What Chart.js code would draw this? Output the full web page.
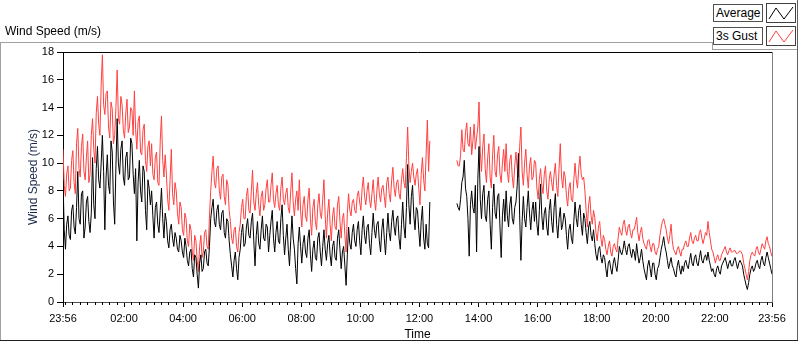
<!DOCTYPE html>
<html>
<head>
<meta charset="utf-8">
<script src="https://cdn.jsdelivr.net/npm/chart.js@4.4.1/dist/chart.umd.min.js"></script>
<style>
  html, body { margin: 0; padding: 0; background: #fff; }
  body { width: 800px; height: 342px; position: relative; overflow: hidden; font-family: "Liberation Sans", Arial, sans-serif; }
  #chart { position: absolute; left: 0; top: 0; }
  .line { position: absolute; background: #a0a0a0; }
  .title { position: absolute; left: 5px; top: 24px; font-size: 12px; color: #000; }
  .lbl { position: absolute; left: 713px; width: 46px; height: 16px; border: 1px solid #505050; font-size: 12px; line-height: 16px; padding-left: 2px; background: #fff; }
  .ico { position: absolute; left: 766px; width: 28px; height: 18px; border: 1px solid #404040; background: #fff; }
</style>
</head>
<body>
<canvas id="chart" width="800" height="342"></canvas>
<div class="title">Wind Speed (m/s)</div>
<!-- frame -->
<div class="line" style="left:0;top:42px;width:712px;height:1px"></div>
<div class="line" style="left:712px;top:42px;width:1px;height:7px"></div>
<div class="line" style="left:712px;top:49px;width:86px;height:1px"></div>
<div class="line" style="left:0;top:42px;width:1px;height:299px"></div>
<div class="line" style="left:797px;top:0;width:1px;height:341px;background:#606060"></div>
<div class="line" style="left:0;top:340px;width:798px;height:1px;background:#202020"></div>
<!-- legend -->
<div class="lbl" style="top:4px">Average</div>
<div class="ico" style="top:3px"><svg width="28" height="18"><polyline points="2,15 9,4 17,15 26,3" fill="none" stroke="#000" stroke-width="1"/></svg></div>
<div class="lbl" style="top:27px">3s Gust</div>
<div class="ico" style="top:26px"><svg width="28" height="18"><polyline points="2,15 9,4 17,15 26,3" fill="none" stroke="#ff4040" stroke-width="1"/></svg></div>
<script>
// minutes relative to midnight, first sample at 23:56 of the day before
const START_MIN = -4;
const STEP_MIN = 2.5;

const xTickMinutes = [-4, 120, 240, 360, 480, 600, 720, 840, 960, 1080, 1200, 1320, 1436];
const xTickLabels = ['23:56', '02:00', '04:00', '06:00', '08:00', '10:00', '12:00', '14:00', '16:00', '18:00', '20:00', '22:00', '23:56'];
const yTicks = [0, 2, 4, 6, 8, 10, 12, 14, 16, 18];

// one row = 30 min
const average = [
  8.8, 5.2, 3.8, 5.6, 6.2, 4.8, 4.5, 6.6, 7.0, 5.4, 4.9, 6.8,
  9.4, 6.0, 5.6, 7.8, 8.0, 4.6, 5.4, 7.2, 7.6, 5.8, 5.0, 6.4,
  10.4, 7.0, 6.0, 9.6, 11.2, 8.8, 8.2, 10.0, 12.0, 9.4, 5.2, 9.0,
  10.6, 8.4, 7.8, 11.6, 10.8, 7.2, 5.6, 9.8, 13.2, 10.0, 9.2, 11.0,
  11.6, 9.0, 8.4, 10.4, 10.8, 8.8, 9.0, 11.8, 11.4, 9.2, 7.8, 9.6,
  4.4, 8.6, 10.2, 8.0, 7.2, 9.8, 9.4, 6.6, 5.2, 8.8, 8.2, 7.0,
  8.0, 6.2, 4.6, 6.8, 7.2, 5.6, 5.0, 6.6, 8.2, 6.0, 4.6, 6.4,
  5.8, 4.4, 3.9, 5.2, 5.6, 4.6, 4.0, 5.0, 4.6, 3.8, 3.6, 4.8,
  4.4, 3.6, 3.2, 4.6, 4.0, 3.0, 2.6, 3.6, 3.8, 2.4, 1.8, 3.4,
  3.2, 2.0, 1.0, 2.8, 3.4, 2.2, 2.4, 3.6, 3.8, 2.8, 2.6, 4.0,
  6.0, 6.8, 7.4, 5.8, 5.4, 6.6, 7.0, 5.6, 5.2, 6.4, 6.6, 5.0,
  4.6, 6.0, 5.8, 4.4, 3.4, 2.6, 1.8, 3.0, 3.6, 2.4, 1.6, 3.2,
  3.8, 5.0, 5.6, 4.0, 4.2, 5.4, 6.0, 4.8, 4.6, 5.8, 6.4, 4.4,
  2.6, 4.8, 5.8, 4.2, 3.8, 5.2, 6.2, 4.6, 4.4, 5.6, 5.4, 3.6,
  4.8, 5.8, 6.6, 4.6, 3.6, 5.0, 5.8, 4.4, 4.2, 6.0, 7.0, 4.8,
  3.4, 4.6, 5.6, 3.8, 2.6, 4.4, 6.2, 4.6, 3.8, 2.4, 1.3, 4.2,
  5.4, 4.0, 2.8, 4.2, 4.8, 3.6, 3.2, 4.6, 5.2, 3.4, 2.2, 3.8,
  4.4, 3.2, 3.0, 4.6, 5.0, 3.6, 2.6, 4.0, 5.2, 3.8, 3.0, 4.2,
  4.8, 3.4, 2.6, 4.0, 4.4, 3.2, 3.0, 4.6, 5.2, 3.8, 2.4, 3.6,
  4.0, 2.6, 1.2, 3.4, 5.4, 4.2, 3.8, 5.0, 5.6, 4.4, 4.0, 5.2,
  5.8, 4.4, 3.4, 5.2, 6.2, 4.8, 4.2, 5.4, 5.6, 4.2, 3.4, 5.0,
  6.4, 5.2, 4.6, 5.6, 5.8, 4.4, 3.6, 5.2, 6.0, 4.6, 3.4, 5.0,
  6.4, 5.0, 4.4, 5.8, 6.6, 5.4, 4.8, 6.0, 6.2, 4.6, 3.8, 5.6,
  7.2, 5.4, 4.6, 6.8, 9.9, 7.0, 5.6, 7.6, 8.4, 6.2, 5.2, 6.8,
  6.6, 5.2, 4.0, 5.8, 6.9, 4.6, 3.8, 5.6, 4.2, 3.9, 7.2, null,
  null, null, null, null, null, null, null, null, null, null, null, null,
  null, null, null, null, null, null, null, null, 7.1, 6.8, 6.6, 7.4,
  8.6, 9.0, 10.2, 8.2, 7.6, 6.0, 3.3, 7.0, 8.0, 6.8, 6.4, 8.4,
  3.6, 8.8, 11.2, 7.4, 6.0, 7.8, 8.4, 6.2, 5.8, 7.4, 8.0, 5.6,
  3.8, 6.8, 8.5, 6.4, 6.0, 7.6, 7.8, 5.4, 3.2, 6.2, 7.4, 5.8,
  8.0, 6.2, 5.4, 7.0, 7.6, 6.0, 5.6, 6.8, 7.2, 8.4, 10.7, 6.2,
  3.0, 5.8, 7.6, 6.0, 5.4, 6.8, 8.0, 6.4, 5.2, 6.6, 7.2, 5.8,
  7.2, 5.6, 4.8, 6.6, 8.5, 6.2, 5.2, 6.4, 6.8, 5.4, 4.8, 6.6,
  7.4, 5.8, 5.0, 6.8, 7.8, 5.6, 4.6, 6.0, 6.8, 5.2, 5.6, 6.4,
  6.0, 4.8, 3.8, 5.2, 5.6, 4.6, 4.2, 5.8, 7.2, 6.0, 5.4, 6.6,
  7.0, 5.6, 4.8, 6.4, 6.0, 5.0, 4.2, 5.4, 5.8, 4.8, 4.4, 5.2,
  4.2, 3.4, 3.0, 3.8, 4.0, 3.2, 2.8, 3.4, 3.2, 2.4, 1.8, 2.8,
  3.0, 2.4, 2.0, 2.8, 3.2, 2.6, 2.2, 3.0, 4.0, 3.6, 3.4, 3.8,
  4.4, 3.8, 3.4, 4.0, 4.2, 3.6, 3.2, 3.8, 3.6, 3.0, 4.2, 3.4,
  2.8, 3.2, 3.8, 3.0, 2.4, 2.0, 1.6, 2.6, 3.0, 2.4, 1.8, 2.8,
  2.8, 2.0, 1.6, 2.4, 2.6, 3.2, 3.8, 4.2, 4.7, 4.0, 3.6, 3.0,
  2.4, 2.8, 3.2, 2.6, 2.4, 2.0, 1.8, 2.6, 3.0, 2.4, 2.0, 2.6,
  2.2, 2.8, 3.0, 2.6, 2.4, 3.0, 3.5, 2.8, 2.6, 3.2, 3.4, 2.8,
  2.6, 3.2, 3.7, 3.0, 2.8, 3.2, 3.4, 3.0, 3.6, 3.0, 2.6, 2.2,
  2.4, 2.0, 1.8, 2.4, 2.6, 2.2, 2.0, 2.6, 2.8, 3.0, 3.2, 2.8,
  2.4, 2.8, 3.0, 2.6, 2.6, 3.0, 3.2, 2.8, 2.4, 2.8, 3.0, 2.8,
  2.6, 2.0, 1.6, 1.2, 0.9, 1.4, 2.0, 2.4, 2.6, 2.2, 2.4, 2.8,
  3.0, 2.6, 2.4, 3.0, 3.3, 2.8, 2.6, 3.2, 3.6, 3.2, 2.8, 2.4,
  2.0
];

const gust = [
  11.0, 8.4, 7.6, 9.2, 9.8, 8.0, 8.2, 10.2, 10.9, 8.6, 7.8, 11.4,
  12.5, 9.6, 9.0, 11.2, 12.1, 9.4, 8.8, 10.4, 11.6, 8.6, 9.2, 12.0,
  13.2, 11.0, 10.0, 13.6, 14.8, 12.8, 12.0, 15.6, 17.8, 14.2, 13.5, 15.0,
  15.2, 12.6, 11.8, 14.4, 13.9, 11.4, 12.0, 14.0, 16.7, 13.2, 12.8, 14.8,
  14.2, 12.4, 11.8, 13.6, 14.6, 12.2, 12.6, 14.0, 13.8, 12.0, 15.2, 12.4,
  11.0, 13.0, 13.4, 10.8, 10.6, 12.4, 12.8, 10.2, 9.4, 11.2, 11.6, 9.8,
  11.4, 9.2, 8.8, 10.4, 10.8, 8.6, 8.4, 11.6, 13.4, 10.2, 9.0, 10.6,
  9.2, 7.4, 6.6, 8.8, 11.0, 7.8, 7.0, 8.6, 8.0, 6.4, 5.6, 7.2,
  6.8, 5.2, 4.8, 6.4, 6.0, 4.4, 4.0, 5.6, 5.2, 3.6, 3.0, 4.8,
  4.4, 3.0, 2.2, 4.0, 4.8, 3.2, 3.6, 5.0, 5.2, 4.0, 3.8, 6.2,
  8.0, 9.4, 10.5, 8.6, 8.2, 9.6, 9.8, 8.0, 7.4, 9.0, 9.2, 7.6,
  7.0, 8.8, 8.4, 6.6, 5.8, 4.6, 4.2, 5.2, 5.4, 4.0, 3.6, 5.0,
  5.6, 6.8, 7.4, 6.0, 6.0, 7.6, 8.2, 6.6, 6.4, 8.0, 9.5, 7.2,
  6.6, 7.8, 8.6, 7.0, 6.2, 7.6, 8.0, 6.6, 7.0, 8.2, 8.8, 7.2,
  7.2, 8.4, 9.3, 7.4, 6.8, 7.8, 8.4, 7.0, 6.6, 8.2, 9.0, 7.4,
  7.0, 7.8, 8.2, 6.8, 6.4, 8.0, 9.3, 7.2, 6.2, 7.4, 8.0, 6.6,
  8.8, 6.6, 5.4, 7.0, 7.6, 6.2, 5.8, 7.4, 8.2, 6.0, 4.8, 6.8,
  7.4, 5.8, 5.2, 7.0, 7.8, 6.4, 6.0, 7.4, 8.8, 6.2, 4.6, 6.4,
  7.4, 5.6, 4.4, 6.2, 6.8, 5.4, 5.2, 7.0, 7.6, 5.8, 4.6, 6.0,
  6.4, 4.8, 3.6, 6.4, 7.8, 6.6, 6.2, 7.2, 7.4, 6.6, 6.4, 7.6,
  8.0, 7.2, 6.6, 8.2, 9.0, 7.6, 7.0, 8.0, 8.6, 7.4, 6.8, 7.8,
  8.8, 7.4, 6.6, 8.0, 9.0, 7.8, 7.2, 8.2, 8.4, 7.6, 6.8, 8.6,
  9.0, 7.8, 7.2, 8.8, 9.7, 8.2, 7.6, 8.6, 8.8, 7.8, 7.4, 8.8,
  9.6, 8.6, 8.2, 10.4, 12.6, 9.8, 8.6, 9.4, 10.0, 9.0, 8.4, 9.2,
  9.6, 8.2, 7.0, 9.2, 10.4, 8.8, 8.0, 10.6, 13.1, 9.4, 11.6, null,
  null, null, null, null, null, null, null, null, null, null, null, null,
  null, null, null, null, null, null, null, null, 10.2, 9.8, 9.8, 10.6,
  12.4, 11.0, 10.8, 12.2, 12.9, 11.4, 11.2, 12.6, 10.6, 11.6, 12.8, 11.0,
  11.8, 12.6, 14.4, 10.8, 9.4, 11.2, 12.1, 9.6, 8.6, 10.4, 11.4, 9.0,
  8.2, 10.6, 12.0, 9.4, 9.0, 10.6, 11.2, 9.2, 8.6, 10.0, 11.0, 9.4,
  11.4, 9.4, 8.6, 10.2, 10.6, 9.0, 8.2, 9.8, 10.8, 9.6, 9.0, 11.2,
  12.6, 9.4, 8.4, 10.0, 11.0, 9.2, 8.2, 9.8, 10.4, 8.8, 9.0, 10.2,
  10.0, 8.2, 7.4, 8.8, 9.6, 8.4, 7.8, 9.2, 9.8, 8.0, 7.4, 8.8,
  9.4, 8.6, 8.0, 9.2, 10.0, 8.4, 7.6, 9.6, 11.4, 9.0, 8.2, 9.4,
  9.0, 7.6, 6.9, 8.2, 8.6, 7.4, 7.2, 8.8, 10.0, 8.8, 8.2, 9.6,
  10.5, 9.2, 8.8, 9.0, 8.0, 6.6, 5.4, 7.0, 7.6, 6.2, 5.6, 6.6,
  6.1, 5.0, 4.4, 5.4, 5.8, 4.6, 4.0, 4.8, 4.5, 3.8, 3.4, 4.0,
  4.4, 3.6, 3.3, 4.0, 4.2, 3.8, 3.6, 4.6, 5.4, 5.0, 4.8, 5.6,
  5.9, 5.2, 4.8, 5.4, 5.6, 5.0, 4.6, 5.2, 5.2, 5.6, 6.1, 5.0,
  4.4, 5.0, 5.4, 4.6, 4.2, 4.0, 3.8, 4.4, 4.5, 4.0, 3.6, 4.2,
  4.2, 3.6, 3.4, 3.8, 4.0, 4.8, 5.4, 5.8, 6.0, 5.6, 5.2, 4.6,
  4.2, 4.8, 5.6, 4.4, 3.8, 3.6, 3.4, 3.8, 4.0, 3.6, 3.3, 3.8,
  3.8, 4.2, 4.4, 4.0, 4.0, 4.6, 5.0, 4.4, 4.2, 4.6, 4.8, 4.4,
  4.4, 5.0, 5.2, 4.6, 4.2, 4.6, 5.0, 4.8, 5.8, 5.0, 4.4, 3.8,
  3.6, 3.2, 2.8, 3.2, 3.4, 3.0, 3.0, 3.4, 3.6, 3.8, 4.0, 3.6,
  3.4, 3.7, 3.9, 3.6, 3.6, 3.7, 3.7, 3.5, 3.5, 3.6, 3.7, 3.6,
  3.4, 2.8, 2.4, 2.0, 1.6, 2.2, 3.0, 3.4, 3.6, 3.4, 3.3, 3.8,
  4.0, 3.6, 3.4, 3.8, 4.2, 4.0, 3.8, 4.4, 4.7, 4.2, 4.0, 3.6,
  3.3
];

function toPoints(values) {
  return values.map((v, i) => ({ x: START_MIN + i * STEP_MIN, y: v }));
}

// short ticks every 15 minutes between the labelled ones
const minorTicks = {
  id: 'minorTicks',
  afterDraw(chart) {
    const ctx = chart.ctx;
    const xs = chart.scales.x;
    ctx.save();
    ctx.strokeStyle = '#000';
    ctx.lineWidth = 1;
    ctx.beginPath();
    for (let m = 0; m < 1436; m += 15) {
      if (xTickMinutes.includes(m)) continue;
      const px = Math.round(xs.getPixelForValue(m)) + 0.5;
      ctx.moveTo(px, xs.top);
      ctx.lineTo(px, xs.top + 3);
    }
    ctx.stroke();
    ctx.restore();
  }
};

// black frame top, grey frame right
const plotFrame = {
  id: 'plotFrame',
  afterDatasetsDraw(chart) {
    const { ctx, chartArea: a } = chart;
    ctx.save();
    ctx.lineWidth = 1;
    ctx.strokeStyle = '#000';
    ctx.beginPath();
    ctx.moveTo(a.left, a.top + 0.5);
    ctx.lineTo(a.right, a.top + 0.5);
    ctx.stroke();
    ctx.strokeStyle = '#808080';
    ctx.beginPath();
    ctx.moveTo(a.right + 0.5, a.top);
    ctx.lineTo(a.right + 0.5, a.bottom);
    ctx.stroke();
    ctx.restore();
  }
};

document.addEventListener("DOMContentLoaded", function () {
  const ctx = document.querySelector("#chart").getContext("2d");

  const data = {
    datasets: [{
      label: 'Average',
      data: toPoints(average),
      borderColor: '#000',
      borderWidth: 1,
      pointRadius: 0,
      spanGaps: false
    }, {
      label: '3s Gust',
      data: toPoints(gust),
      borderColor: 'rgb(255, 64, 64)',
      borderWidth: 1,
      pointRadius: 0,
      spanGaps: false
    }]
  };

  const config = {
    type: 'line',
    data: data,
    options: {
      responsive: false,
      animation: false,
      devicePixelRatio: 1,
      layout: { padding: { left: 0, top: 52, right: 28, bottom: 0 } },
      plugins: {
        legend: { display: false },
        tooltip: { enabled: false }
      },
      elements: { line: { tension: 0 } },
      scales: {
        x: {
          type: 'linear',
          min: -4,
          max: 1436,
          afterBuildTicks: s => { s.ticks = xTickMinutes.map(v => ({ value: v })); },
          afterFit: s => { s.height = 40; },
          ticks: {
            autoSkip: false,
            maxRotation: 0,
            color: '#000',
            padding: 5,
            font: { family: 'Liberation Sans', size: 11 },
            callback: (v, i) => xTickLabels[i]
          },
          grid: { drawOnChartArea: false, tickLength: 5, tickColor: '#000' },
          border: { color: '#505050' },
          title: {
            display: true,
            text: 'Time',
            color: '#000',
            font: { family: 'Liberation Sans', size: 12 },
            padding: { top: 0, bottom: 0 }
          }
        },
        y: {
          min: 0,
          max: 18,
          afterBuildTicks: s => { s.ticks = yTicks.map(v => ({ value: v })); },
          afterFit: s => { s.width = 63; },
          ticks: {
            color: '#000',
            padding: 3,
            font: { family: 'Liberation Sans', size: 11 }
          },
          grid: { drawOnChartArea: false, tickLength: 6, tickColor: '#000' },
          border: { color: '#000' },
          title: {
            display: true,
            text: 'Wind Speed (m/s)',
            color: '#1c2a4a',
            font: { family: 'Liberation Sans', size: 12 },
            padding: { top: 26, bottom: 0 }
          }
        }
      }
    },
    plugins: [minorTicks, plotFrame]
  };

  const myChart = new Chart(ctx, config);
});
</script>
</body>
</html>
